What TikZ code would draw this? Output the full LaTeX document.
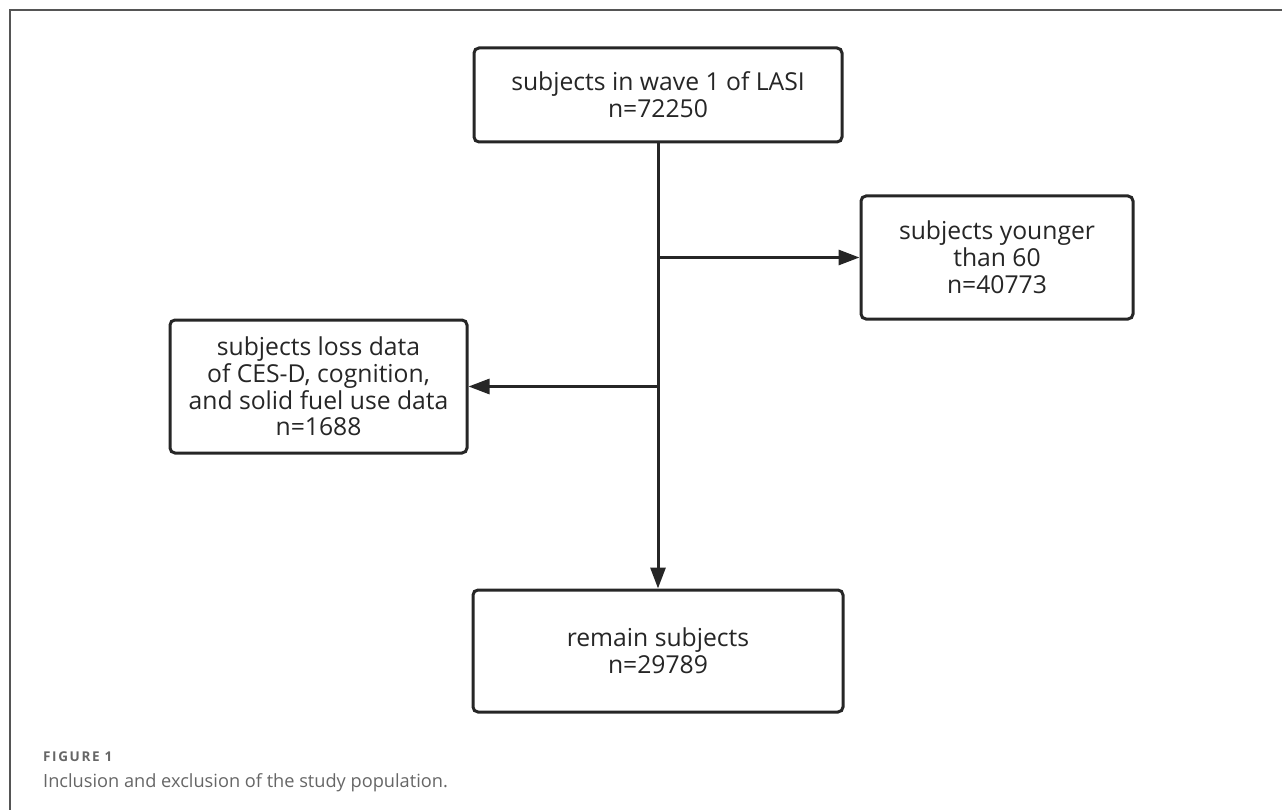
\documentclass[tikz,border=0pt]{standalone}
\usepackage{fontspec}
\setmainfont{Open Sans}
\usetikzlibrary{arrows.meta}
\definecolor{ink}{HTML}{262626}
\definecolor{cap}{HTML}{666666}
\definecolor{frame}{HTML}{555555}
\tikzset{
  stepbox/.style={draw=ink, line width=3pt, rounded corners=5pt, fill=white,
    align=center, text=ink, font=\fontsize{24.7}{26.8}\selectfont, inner sep=0pt},
  flow/.style={draw=ink, line width=3pt, -{Triangle[length=21pt,width=15pt]}},
}
\begin{document}
\begin{tikzpicture}[x=1pt,y=-1pt]
\useasboundingbox (0,0) rectangle (1282,810);
\draw[frame, line width=2pt] (10,810) -- (10,10) -- (1282,10);
\node[stepbox, minimum width=368pt, minimum height=94pt] (top) at (658,95)
  {subjects in wave 1 of LASI\\n=72250};
\node[stepbox, minimum width=272pt, minimum height=123pt] (right) at (997,257.5)
  {subjects younger\\than 60\\n=40773};
\node[stepbox, minimum width=297pt, minimum height=133pt] (left) at (318.5,386.5)
  {subjects loss data\\of CES-D, cognition,\\and solid fuel use data\\n=1688};
\node[stepbox, minimum width=370pt, minimum height=122pt] (bottom) at (658,651)
  {remain subjects\\n=29789};
\draw[flow] (top.south) -- (bottom.north);
\draw[flow] (top.south |- right.west) -- (right.west);
\draw[flow] (top.south |- left.east) -- (left.east);
\node[anchor=base west, text=cap, font=\fontsize{13.5}{16}\selectfont\bfseries\addfontfeature{LetterSpace=12}, inner sep=0pt] (fig) at (43,761) {FIGURE 1};
\node[anchor=base west, text=cap, font=\fontsize{18.2}{22}\selectfont, inner sep=0pt] (caption) at (43,787) {Inclusion and exclusion of the study population.};
\end{tikzpicture}
\end{document}
